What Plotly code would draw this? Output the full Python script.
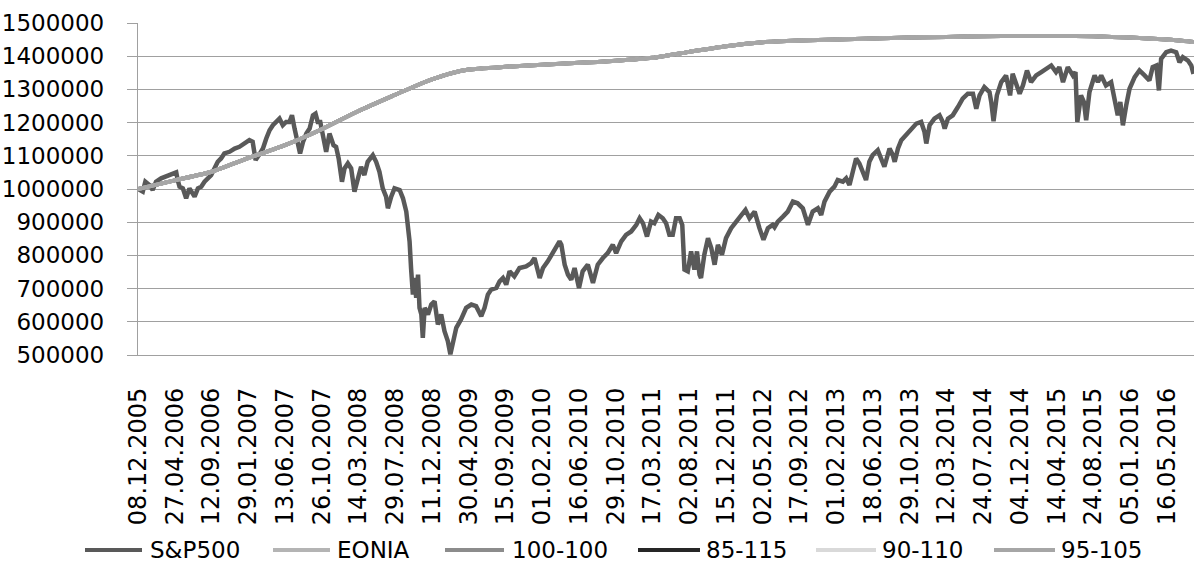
import plotly.graph_objects as go

# ---------------- data ----------------
tick_dates = ["08.12.2005", "27.04.2006", "12.09.2006", "29.01.2007", "13.06.2007",
              "26.10.2007", "14.03.2008", "29.07.2008", "11.12.2008", "30.04.2009",
              "15.09.2009", "01.02.2010", "16.06.2010", "29.10.2010", "17.03.2011",
              "02.08.2011", "15.12.2011", "02.05.2012", "17.09.2012", "01.02.2013",
              "18.06.2013", "29.10.2013", "12.03.2014", "24.07.2014", "04.12.2014",
              "14.04.2015", "24.08.2015", "05.01.2016", "16.05.2016"]
tick_pos = [i * 100 for i in range(len(tick_dates))]  # observation index of each labelled date

# S&P500 portfolio value (thousands) read at observation indices
sp_idx = [0, 13, 20, 31, 40, 49, 63, 77, 90, 104, 108, 113, 122, 131, 140, 154, 163, 172, 181, 190,
          199, 208, 217, 226, 235, 249, 263, 276, 290, 303, 312, 320, 329, 340, 349, 358, 367, 376,
          385, 394, 403, 412, 419, 426, 435, 441, 449, 458, 467, 476, 483, 489, 496, 503, 512, 521,
          532, 539, 546, 555, 562, 571, 580, 589, 598, 607, 616, 625, 639, 648, 657, 666, 675, 680,
          689, 698, 712, 721, 730, 734, 739, 743, 748, 752, 757, 762, 766, 771, 775, 780, 789, 798,
          807, 816, 825, 834, 843, 850, 857, 866, 879, 893, 907, 920, 934, 943, 952, 961, 975, 984,
          993, 1002, 1011, 1024, 1038, 1056, 1070, 1079, 1093, 1102, 1115, 1129, 1142, 1147, 1152,
          1158, 1161, 1170, 1179, 1188, 1200, 1210, 1224, 1238, 1251, 1265, 1278, 1292, 1301, 1315,
          1328, 1342, 1356, 1365, 1374, 1385, 1396, 1405, 1416, 1428, 1437, 1446, 1455, 1464, 1474,
          1481, 1487, 1496, 1505, 1514, 1521, 1528, 1532, 1541, 1551, 1560, 1569, 1578, 1589, 1600,
          1614, 1628, 1641, 1653, 1664, 1678, 1691, 1702, 1714, 1727, 1732, 1741, 1755, 1768, 1782,
          1795, 1809, 1823, 1836, 1850, 1859, 1868, 1882, 1895, 1904, 1918, 1927, 1936, 1945, 1954,
          1963, 1972, 1981, 1990, 1999, 2013, 2022, 2031, 2045, 2054, 2059, 2068, 2077, 2090, 2104,
          2118, 2131, 2140, 2145, 2154, 2167, 2181, 2190, 2195, 2204, 2217, 2231, 2244, 2258, 2272,
          2281, 2290, 2303, 2317, 2322, 2328, 2337, 2349, 2362, 2373, 2380, 2390, 2399, 2408, 2419,
          2430, 2444, 2458, 2471, 2485, 2498, 2507, 2517, 2530, 2544, 2551, 2556, 2566, 2574, 2580,
          2589, 2603, 2612, 2621, 2634, 2648, 2657, 2666, 2673, 2680, 2689, 2698, 2712, 2725, 2739,
          2752, 2761, 2771, 2778, 2784, 2798, 2811, 2825, 2834, 2843, 2857, 2866, 2872]
sp_val = [1000, 992, 1022, 1012, 997, 1022, 1032, 1037, 1042, 1050, 1027, 1007, 1002, 972, 1002, 977,
          1002, 1007, 1022, 1032, 1042, 1062, 1082, 1092, 1107, 1112, 1122, 1127, 1137, 1147, 1142,
          1087, 1102, 1122, 1152, 1177, 1192, 1202, 1212, 1192, 1202, 1202, 1222, 1182, 1142, 1107,
          1142, 1167, 1182, 1222, 1227, 1202, 1202, 1162, 1112, 1167, 1132, 1127, 1092, 1022, 1062,
          1077, 1062, 992, 1032, 1067, 1042, 1082, 1102, 1082, 1052, 1002, 977, 942, 977, 1002, 997,
          972, 932, 902, 842, 762, 682, 732, 672, 742, 642, 622, 552, 642, 622, 652, 662, 592, 622,
          572, 542, 502, 542, 582, 607, 642, 652, 647, 617, 642, 682, 697, 702, 722, 732, 712, 752,
          737, 762, 767, 777, 792, 732, 762, 782, 807, 832, 842, 832, 790, 772, 742, 727, 762, 702,
          752, 772, 717, 772, 792, 807, 832, 807, 842, 862, 872, 892, 912, 897, 857, 902, 897, 922,
          912, 897, 862, 862, 912, 912, 892, 757, 752, 812, 757, 812, 742, 732, 802, 852, 822, 772,
          832, 802, 852, 882, 902, 922, 937, 912, 932, 882, 847, 882, 892, 885, 902, 917, 932, 962,
          957, 942, 892, 932, 942, 922, 962, 992, 1007, 1027, 1022, 1032, 1012, 1052, 1092, 1077,
          1052, 1027, 1082, 1102, 1117, 1092, 1067, 1122, 1102, 1082, 1122, 1147, 1162, 1177, 1197,
          1202, 1172, 1137, 1192, 1212, 1222, 1202, 1182, 1212, 1222, 1247, 1272, 1287, 1287, 1242,
          1282, 1307, 1292, 1260, 1204, 1282, 1322, 1342, 1282, 1347, 1312, 1287, 1312, 1357, 1322,
          1342, 1352, 1362, 1372, 1352, 1367, 1322, 1367, 1342, 1352, 1202, 1282, 1262, 1207, 1292,
          1342, 1322, 1342, 1312, 1322, 1272, 1222, 1262, 1192, 1252, 1302, 1337, 1357, 1342, 1327,
          1367, 1372, 1297, 1392, 1412, 1417, 1412, 1382, 1397, 1387, 1372, 1347]

# EONIA-like and strategy curves (thousands) read at observation indices
eo_idx = [0, 100, 200, 300, 400, 500, 600, 700, 750, 800, 850, 900, 1000, 1100, 1200, 1300, 1400,
          1500, 1600, 1700, 1800, 1900, 2000, 2100, 2200, 2300, 2400, 2500, 2600, 2700, 2800, 2872]
eonia = [1000, 1026, 1052, 1093, 1132, 1180, 1235, 1284, 1308, 1330, 1348, 1360, 1368, 1374, 1380,
         1386, 1395, 1413, 1430, 1442, 1447, 1450, 1453, 1456, 1458, 1460, 1461, 1461, 1460, 1456,
         1450, 1443]
s100_100 = list(eonia)
s85_115 = list(eonia)
s90_110 = list(eonia)
s95_105 = list(eonia)

series_names = ["S&P500", "EONIA", "100-100", "85-115", "90-110", "95-105"]
series_colors = ["#595959", "#B4B4B4", "#8C8C8C", "#262626", "#D9D9D9", "#A6A6A6"]

# ---------------- figure ----------------
FONT = "DejaVu Sans"
W, H = 1194, 563
ML, MR, MT, MB = 138, 0, 23, 208
PW, PH = W - ML - MR, H - MT - MB

fig = go.Figure()
fig.add_trace(go.Scatter(x=sp_idx, y=[v * 1000 for v in sp_val], mode="lines",
                         line=dict(color=series_colors[0], width=4.5), name=series_names[0]))
for name, vals, col in zip(series_names[1:], [eonia, s100_100, s85_115, s90_110, s95_105],
                           series_colors[1:]):
    fig.add_trace(go.Scatter(x=eo_idx, y=[v * 1000 for v in vals], mode="lines",
                             line=dict(color=col, width=4, shape="spline", smoothing=0.6),
                             name=name))

# manual legend (pixel layout)
leg_items = [(85, 142, 148), (273, 330, 335), (445, 504, 510),
             (638, 700, 704), (816, 876, 880), (994, 1055, 1059)]
leg_y_px = 550
ly = (MT + PH - leg_y_px) / PH
shapes, annotations = [], []
for (x0, x1, xt), name, col in zip(leg_items, series_names, series_colors):
    shapes.append(dict(type="line", xref="paper", yref="paper",
                       x0=(x0 - ML) / PW, x1=(x1 - ML) / PW, y0=ly, y1=ly,
                       line=dict(color=col, width=4)))
    annotations.append(dict(xref="paper", yref="paper", x=(xt - ML) / PW, y=ly,
                            text=name, showarrow=False, xanchor="left", yanchor="middle",
                            font=dict(family=FONT, size=23, color="#000000")))

fig.update_layout(
    width=W, height=H,
    margin=dict(l=ML, r=MR, t=MT, b=MB),
    paper_bgcolor="white", plot_bgcolor="white",
    showlegend=False,
    shapes=shapes, annotations=annotations,
    xaxis=dict(range=[0, PW / 0.3675], tickmode="array", tickvals=tick_pos, ticktext=tick_dates,
               tickangle=-90, showgrid=False, zeroline=False, ticks="",
               showline=True, linecolor="#A0A0A0", linewidth=1.3,
               tickfont=dict(family=FONT, size=24, color="#000000"), ticklabelstandoff=22),
    yaxis=dict(range=[500000, 1500000], dtick=100000, tick0=500000, tickformat="d",
               showgrid=True, gridcolor="#A0A0A0", gridwidth=1.3, zeroline=False,
               showline=True, linecolor="#A0A0A0", linewidth=1.3,
               ticks="outside", ticklen=10, tickcolor="#A0A0A0", tickwidth=1.3,
               tickfont=dict(family=FONT, size=23, color="#000000"), ticklabelstandoff=18),
)

fig.write_html("out.html", config={"displayModeBar": False},
               post_script="document.body.style.margin='0';document.body.style.padding='0';")
